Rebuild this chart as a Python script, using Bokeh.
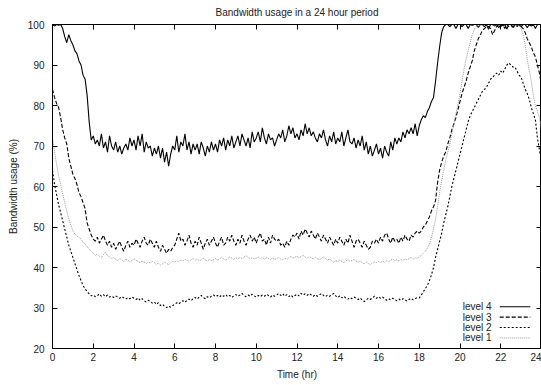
import numpy as np
from bokeh.plotting import figure
from bokeh.models import LinearAxis, Range1d, FixedTicker, Label
from bokeh.embed import file_html
from bokeh.resources import INLINE

hours = [round(i * 0.1, 1) for i in range(241)]

level4 = [
    100, 99.6, 100, 99.8, 100, 99, 97, 95.5, 97.5, 96,
    95, 93.5, 92.8, 91, 90, 87.5, 86.5, 82.5, 76, 71.5,
    72.5, 70.5, 71.5, 70, 73, 69.5, 71, 68.5, 72.5, 70,
    69, 71, 68.5, 70, 68, 69.5, 70.5, 69, 72, 70,
    71.5, 69, 72.5, 70, 73, 68.5, 71, 69.5, 70, 67.5,
    69.5, 68, 70, 67, 69.5, 66, 68.5, 65, 68, 70,
    69, 72.5, 68.5, 71, 70, 73, 69, 71, 68, 70.5,
    69, 70.5, 68, 71, 69.5, 67.5, 70, 68.5, 71, 69,
    70.5, 68.5, 71.5, 70, 72, 69, 71.5, 70, 72.5, 69.5,
    71, 72.5, 70, 73, 71.5, 70, 72, 69.5, 73.5, 71,
    72, 73.5, 71, 74.5, 72, 70.5, 73, 71.5, 72, 70,
    71.5, 73, 72, 74, 71, 72.5, 75, 73, 74.5, 72,
    73, 71.5, 74, 72.5, 75.5, 73, 74.5, 72.5, 73.5, 72,
    71, 73, 72, 74, 71.5, 70, 72.5, 71, 73.5, 70.5,
    72, 71, 73.5, 70, 72, 74, 71, 70.5, 72, 69.5,
    71.5, 70, 72.5, 69, 71, 68, 70, 67.5, 69, 70.5,
    68, 69.5, 67, 70, 68.5, 67.5, 71, 69, 72, 70.5,
    72, 71, 73.5, 72, 74, 73, 74.5, 73, 75.5, 72.5,
    75, 76.5, 77.5, 77, 78.5, 79.5, 81, 82, 86, 90.5,
    94.5, 98, 99.5, 100, 100, 99.5, 100, 100, 99, 100,
    100, 99.5, 100, 100, 99, 100, 99.8, 100, 100, 99.3,
    100, 100, 99.5, 100, 98.8, 100, 100, 99.6, 100, 99.2,
    100, 99.7, 100, 98.9, 100, 100, 99.4, 100, 99.8, 100,
    99.5, 100, 100, 99.2, 100, 99.6, 100, 99, 100, 100,
    100,
]

level3 = [
    84, 82, 80.5, 79.5, 77, 74, 72, 70.5, 67, 65,
    63, 62, 60.5, 58.5, 57.5, 56, 54.5, 51, 49.5, 48,
    47, 46.5, 47.5, 46, 47, 48, 46.5, 45.5, 46.5, 45,
    46, 44.5, 45.5, 46.5, 45, 44, 45.5, 46.5, 45, 46,
    45.5, 47, 46, 45, 46.5, 47.5, 46, 45.5, 47, 46,
    45, 46.5, 45, 44, 45.5, 44.5, 43.5, 44.5, 44, 45,
    45.5, 47, 48.5, 46.5, 47, 45.5, 46.5, 48, 46, 45,
    46.5, 45.5, 47.5, 46, 44.5, 46, 47, 45.5, 46.5, 47.5,
    46, 45, 46.5, 47.5, 45.5, 46, 47.5, 46.5, 48, 46.5,
    45.5, 47, 46, 48, 46.5, 45.5, 47, 48, 46.5, 47.5,
    46, 47.5, 48.5, 46.5, 47, 45.5, 47.5, 46, 48, 47,
    46.5, 47, 45.5, 46, 45, 46.5, 45.5, 47, 48, 47.5,
    48.5, 47, 49, 48, 49.5, 48.5, 47.5, 49, 48, 47,
    48.5, 47.5, 46.5, 48, 47, 46, 47.5, 46.5, 45.5, 47,
    46, 47.5, 46.5, 45.5, 47, 46, 48, 46.5, 45, 46.5,
    47, 46, 45, 46.5, 45.5, 44.5, 45, 46.5, 46, 47,
    46, 47.5, 46.5, 48, 48.5, 47, 46, 47.5, 46.5, 47,
    46, 47.5, 46.5, 48, 47, 46.5, 48, 47.5, 48.5, 49,
    48.5, 49, 50, 50.5, 51.5, 52.5, 54, 55, 56.5, 61,
    64, 66, 67.5, 68.5, 70.5, 72, 74, 75.5, 77, 79,
    81, 83, 84.5, 86, 88, 89.5, 91, 93.5, 95, 96.5,
    97.5, 98.5, 99, 99.5, 99.5, 99, 97.5, 98.5, 99.5, 100,
    99.5, 100, 99, 100, 99.5, 100, 99, 100, 99.5, 100,
    99.5, 99, 98, 96.5, 95.5, 94.5, 93, 92, 90, 88,
    85,
]

level2 = [
    64, 60.5, 58, 55.5, 53.5, 51.5, 49.5, 47.5, 45.5, 44,
    42.5, 41, 39.5, 38, 36.8, 35.5, 34.8, 34, 33.5, 33,
    33.2, 32.8, 33, 33.5, 32.9, 33.3, 32.8, 33.2, 32.7, 32.9,
    32.6, 33, 32.7, 32.4, 32.8, 32.5, 32.2, 32.6, 32.3, 32.7,
    32.4, 32.1, 32.5, 31.9, 32.3, 31.8, 31.5, 31.9, 31.6, 31.2,
    31.5, 30.9, 31.3, 30.6, 30.9, 30.4, 30.1, 30.5, 30.2, 30.6,
    30.9, 31.3, 31, 31.5, 31.8, 31.4, 31.9, 32.2, 31.8, 32.3,
    32.6, 32.2, 32.7, 33.1, 32.6, 32.3, 32.8, 32.5, 32.9, 33.2,
    32.8, 33.1, 32.7, 33.2, 32.9, 33.3, 32.8, 33.1, 32.6, 33,
    33.3, 32.9, 33.2, 33.6, 33.1, 32.8, 33.2, 32.9, 33.4, 33,
    32.7, 33.1, 32.8, 33.2, 32.9, 33.4, 33.1, 32.7, 33.2, 32.9,
    33.2, 33.6, 33.1, 33.5, 32.9, 33.3, 32.8, 33.2, 32.7, 33.1,
    33.4, 33, 33.6, 33.2, 33.5, 33.1, 33.6, 33.2, 32.9, 33.3,
    32.9, 33.2, 33.6, 33.1, 32.8, 33.2, 32.9, 33.3, 33.6, 33,
    32.6, 33, 32.5, 32.9, 32.4, 32.2, 32.6, 32.3, 32.7, 32.4,
    32.1, 32.5, 31.9, 31.6, 32, 32.4, 32.1, 32.5, 32.9, 32.4,
    32.8, 32.4, 32.7, 32.3, 31.9, 32.3, 32, 32.4, 32.1, 31.8,
    32.2, 31.9, 32.3, 32, 31.7, 32.1, 32.4, 32, 32.3, 32.6,
    32.5, 33.2, 34, 34.8, 35.6, 36.8, 38.2, 40, 42.5, 44.5,
    46.5, 48.5, 51, 53, 55, 57.5, 60, 62, 64, 66,
    68, 70, 72, 74, 76, 77.5, 78.5, 79.5, 80.5, 81.5,
    82.5, 83.5, 84, 84.5, 85.5, 86.5, 87, 87.5, 88, 87.5,
    88.5, 88, 89, 90, 90.5, 90, 89.5, 89.5, 88.5, 87.5,
    87, 85.5, 84, 83, 81.5, 79.5, 78, 76.5, 72, 69,
    66,
]

level1 = [
    72, 68.5, 65.5, 62.5, 60.5, 58, 56, 54, 52, 50.5,
    49, 48.2, 47.8, 47.5, 47, 46.2, 45.8, 45.2, 44.5, 44,
    43.5, 43, 43.3, 42.8, 42.4, 43.2, 43.8, 42.9, 42.6, 42.2,
    42.5, 42, 41.7, 42.2, 41.9, 41.5, 42.1, 41.8, 41.4, 41.7,
    42.2, 41.8, 41.5, 41.2, 41.6, 41.3, 41, 41.4, 41.1, 41.5,
    41.2, 40.8, 41.1, 40.6, 40.9, 41.3, 41, 40.7, 41.2, 41.5,
    41.3, 41.7, 41.4, 41.9, 41.6, 42, 41.8, 41.5, 41.9, 42.2,
    41.8, 42.1, 41.7, 41.9, 42.3, 41.9, 41.6, 42, 41.7, 41.9,
    42.2, 41.8, 42.1, 42.5, 42.1, 41.8, 42.2, 42.6, 42.3, 42,
    42.4, 42.1, 42.5, 42.2, 42.6, 42.9, 42.5, 42.2, 42.4, 42.1,
    42.3, 42.6, 42.2, 42.5, 42.1, 42.4, 42.2, 41.9, 42.3, 42,
    42.2, 42.5, 42.1, 41.9, 42.3, 42, 42.4, 42.7, 42.3, 42.5,
    42.8, 42.4, 42.7, 43, 42.6, 42.3, 42.7, 42.4, 42.1, 42.5,
    42.2, 41.9, 42.3, 42.6, 42.2, 41.8, 42.1, 41.6, 41.3, 41.7,
    41.4, 41.8, 41.5, 41.2, 41.6, 41.9, 41.5, 41.7, 42, 41.6,
    41.3, 41.6, 41.2, 40.9, 41.3, 41, 40.7, 41.1, 41.4, 41.2,
    41.5, 41.2, 41.6, 41.3, 41.7, 41.4, 41.8, 42.1, 41.7, 41.9,
    41.6, 42, 41.7, 42.1, 41.9, 42.2, 42.5, 42.1, 42.4, 42.3,
    42.6, 43, 43.5, 44, 44.8, 45.8, 47.5, 49.5, 52, 55,
    58.5, 61.5, 64, 66.5, 68.5, 70.5, 73, 75.5, 78, 80.5,
    83, 86, 89, 91.5, 93.5, 95.5, 97.5, 98.8, 99.5, 99.8,
    100, 99.8, 100, 100, 99.9, 100, 100, 99.8, 100, 100,
    100, 99.9, 100, 100, 99.8, 100, 100, 99.9, 100, 99.7,
    99, 97.5, 95, 91.5, 88.6, 86, 82.5, 80, 78.5, 77,
    74,
]

series_names = ["level 4", "level 3", "level 2", "level 1"]
x_ticks = list(range(0, 25, 2))
y_ticks = list(range(20, 101, 10))

FONT = "Liberation Sans"
TXT = "#222222"

p = figure(width=541, height=385, output_backend="svg", toolbar_location=None,
           x_range=Range1d(0, 24), y_range=Range1d(20, 100),
           min_border_left=52, min_border_right=0, min_border_top=24, min_border_bottom=37)
p.title.text = "Bandwidth usage in a 24 hour period"
p.title.align = "center"
p.title.vertical_align = "top"
p.title.offset = -10
p.title.text_font = FONT
p.title.text_font_size = "10px"
p.title.text_font_style = "normal"
p.title.text_color = TXT
p.title.standoff = 9
p.grid.visible = False
p.outline_line_color = "black"
p.outline_line_width = 1
p.background_fill_color = "white"
p.border_fill_color = "white"

for ax in (p.xaxis[0], p.yaxis[0]):
    ax.major_tick_in = 5
    ax.major_tick_out = 0
    ax.minor_tick_in = 0
    ax.minor_tick_out = 0
    ax.axis_line_color = "black"
    ax.major_tick_line_color = "black"
    ax.major_label_text_font = FONT
    ax.major_label_text_font_size = "10px"
    ax.major_label_text_color = TXT
    ax.axis_label_text_font = FONT
    ax.axis_label_text_font_size = "10px"
    ax.axis_label_text_font_style = "normal"
    ax.axis_label_text_color = TXT

p.xaxis[0].ticker = FixedTicker(ticks=x_ticks)
p.yaxis[0].ticker = FixedTicker(ticks=y_ticks)
p.xaxis[0].axis_label = "Time (hr)"
p.yaxis[0].axis_label = "Bandwidth usage (%)"
p.xaxis[0].major_label_standoff = 4
p.yaxis[0].major_label_standoff = 8
p.xaxis[0].axis_label_standoff = 5
p.yaxis[0].axis_label_standoff = 6

# mirrored ticks on top and right (labels not drawn)
top = LinearAxis(ticker=FixedTicker(ticks=x_ticks), major_label_text_color=None,
                 major_label_text_font_size="1px",
                 major_tick_in=5, major_tick_out=0, minor_tick_in=0, minor_tick_out=0,
                 major_label_standoff=0, axis_line_color="black")
right = LinearAxis(ticker=FixedTicker(ticks=y_ticks), major_label_text_color=None,
                   major_label_text_font_size="1px",
                   major_tick_in=5, major_tick_out=0, minor_tick_in=0, minor_tick_out=0,
                   major_label_standoff=0, axis_line_color="black")
p.add_layout(top, "above")
p.add_layout(right, "right")

styles = [
    dict(line_color="black", line_width=1.1, line_dash="solid"),
    dict(line_color="black", line_width=1.1, line_dash="4 2"),
    dict(line_color="black", line_width=1.1, line_dash="2 2"),
    dict(line_color="#999999", line_width=1.0, line_dash="1 1"),
]
all_series = [level4, level3, level2, level1]
for ys, st in zip(all_series, styles):
    p.line(hours, ys, **st)

# gnuplot-style legend: label right-aligned, sample line on its right
legend_x_text = 21.55
legend_x0, legend_x1 = 21.95, 23.45
legend_y = [30.3, 27.75, 25.2, 22.6]
for name, yy, st in zip(series_names, legend_y, styles):
    p.add_layout(Label(x=legend_x_text, y=yy, text=name, text_align="right",
                       text_baseline="middle", text_font=FONT, text_font_size="10px",
                       text_color=TXT))
    p.line([legend_x0, legend_x1], [yy, yy], **st)

open("out.html", "w").write(file_html(p, INLINE))
